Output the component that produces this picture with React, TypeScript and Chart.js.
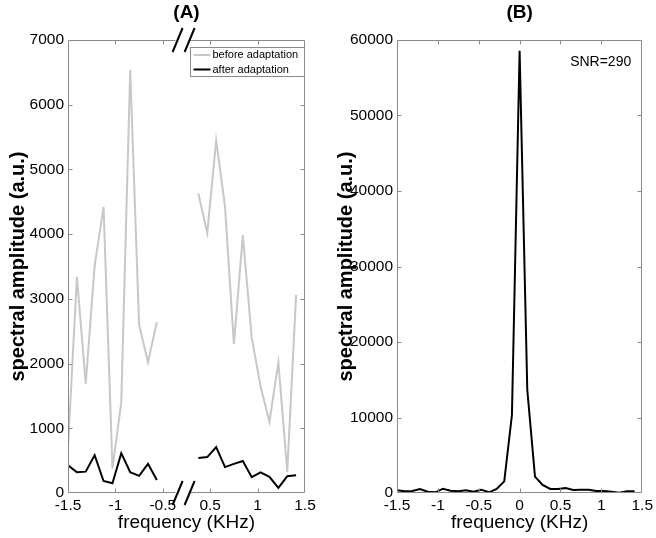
import React, { useEffect, useRef } from "react";
import { Chart, registerables } from "chart.js";

Chart.register(...registerables);

const FONT = "'Liberation Sans', Arial, Helvetica, sans-serif";
const FRAME = "#8a8a8a";
const GRAY_LINE = "#c8c8c8";

// ---------- Panel A (broken frequency axis) ----------
const freqLeftA = [-1.5, -1.406, -1.313, -1.219, -1.125, -1.031, -0.938, -0.844, -0.75, -0.656, -0.563];
const beforeLeftA = [700, 3340, 1690, 3510, 4420, 380, 1400, 6540, 2600, 2020, 2640];
const afterLeftA = [430, 320, 330, 585, 185, 150, 615, 320, 265, 450, 200];

const freqRightA = [0.375, 0.469, 0.563, 0.656, 0.75, 0.844, 0.938, 1.031, 1.125, 1.219, 1.313, 1.406];
const beforeRightA = [4630, 4020, 5450, 4430, 2300, 3980, 2400, 1650, 1100, 2020, 330, 3060];
const afterRightA = [540, 555, 710, 400, 450, 495, 245, 320, 250, 80, 260, 275];

const seriesLabelsA = ["before adaptation", "after adaptation"];
const yTicksA = [0, 1000, 2000, 3000, 4000, 5000, 6000, 7000];

// ---------- Panel B ----------
const freqB = [
  -1.5, -1.406, -1.313, -1.219, -1.125, -1.031, -0.938, -0.844, -0.75, -0.656, -0.563,
  -0.469, -0.375, -0.281, -0.188, -0.094, 0, 0.094, 0.188, 0.281, 0.375, 0.469,
  0.563, 0.656, 0.75, 0.844, 0.938, 1.031, 1.125, 1.219, 1.313, 1.406,
];
const amplitudeB = [
  350, 220, 260, 530, 180, 90, 570, 300, 220, 350, 180,
  440, 90, 530, 1540, 10330, 58580, 13640, 2160, 1060, 530, 530,
  660, 400, 440, 440, 260, 260, 180, 40, 220, 220,
];
const yTicksB = [0, 10000, 20000, 30000, 40000, 50000, 60000];
const snrText = "SNR=290";

const yTitle = "spectral amplitude (a.u.)";
const xTitle = "frequency (KHz)";

// The broken axis removes the 0.5 KHz between -0.5 and 0.5 KHz
const compress = (f: number) => (f < 0 ? f : f - 0.5);
const fmt = (v: number) => String(Math.round(v * 10) / 10);

const framePlugin = {
  id: "matlabFrame",
  afterDatasetsDraw(chart: any, _args: any, opts: any) {
    const { ctx } = chart;
    const { left, right, top, bottom } = chart.chartArea;
    const xs = chart.scales.x;
    const ys = chart.scales.y;
    const L = Math.round(left) + 0.5;
    const R = Math.round(right) - 0.5;
    const T = Math.round(top) + 0.5;
    const B = Math.round(bottom) - 0.5;
    ctx.save();
    ctx.strokeStyle = FRAME;
    ctx.lineWidth = 1;
    let bx: number | null = null;
    if (opts.breakAt !== undefined && opts.breakAt !== null) {
      bx = xs.getPixelForValue(opts.breakAt);
    }
    ctx.beginPath();
    ctx.moveTo(L, T); ctx.lineTo(L, B);
    ctx.moveTo(R, T); ctx.lineTo(R, B);
    for (const yy of [T, B]) {
      if (bx !== null) {
        ctx.moveTo(L, yy); ctx.lineTo(bx - 9, yy);
        ctx.moveTo(bx + 5, yy); ctx.lineTo(R, yy);
      } else {
        ctx.moveTo(L, yy); ctx.lineTo(R, yy);
      }
    }
    const tl = 4;
    for (const t of xs.ticks) {
      const px = Math.round(xs.getPixelForValue(t.value)) + 0.5;
      if (px <= L + 1 || px >= R - 1) continue;
      ctx.moveTo(px, B); ctx.lineTo(px, B - tl);
      ctx.moveTo(px, T); ctx.lineTo(px, T + tl);
    }
    for (const t of ys.ticks) {
      const py = Math.round(ys.getPixelForValue(t.value)) + 0.5;
      if (py <= T + 1 || py >= B - 1) continue;
      ctx.moveTo(L, py); ctx.lineTo(L + tl, py);
      ctx.moveTo(R, py); ctx.lineTo(R - tl, py);
    }
    ctx.stroke();

    if (bx !== null) {
      ctx.strokeStyle = "#000";
      ctx.lineWidth = 2;
      ctx.beginPath();
      for (const yc of [top, bottom]) {
        ctx.moveTo(bx - 12, yc + 12); ctx.lineTo(bx - 2, yc - 12);
        ctx.moveTo(bx, yc + 12); ctx.lineTo(bx + 10, yc - 12);
      }
      ctx.stroke();
    }

    ctx.fillStyle = "#000";
    ctx.font = `bold 19px ${FONT}`;
    ctx.textAlign = "center";
    ctx.textBaseline = "middle";
    ctx.fillText(opts.title, (left + right) / 2, 13);

    if (opts.legend) {
      const lw = 114, lh = 29;
      const lx = Math.round(right) - lw - 0.5;
      const ly = Math.round(top) + 7.5;
      ctx.fillStyle = "#fff";
      ctx.fillRect(lx, ly, lw, lh);
      ctx.strokeStyle = FRAME;
      ctx.lineWidth = 1;
      ctx.strokeRect(lx, ly, lw, lh);
      ctx.font = `11px ${FONT}`;
      ctx.textAlign = "left";
      ctx.textBaseline = "middle";
      chart.data.datasets.forEach((ds: any, i: number) => {
        const yy = ly + 7.5 + i * 14.5;
        ctx.strokeStyle = ds.borderColor;
        ctx.lineWidth = 2;
        ctx.beginPath();
        ctx.moveTo(lx + 3, yy);
        ctx.lineTo(lx + 20, yy);
        ctx.stroke();
        ctx.fillStyle = "#000";
        ctx.fillText(ds.label, lx + 22, yy);
      });
    }

    if (opts.note) {
      ctx.fillStyle = "#000";
      ctx.font = `14px ${FONT}`;
      ctx.textAlign = "right";
      ctx.textBaseline = "middle";
      ctx.fillText(opts.note, right - 11, 62);
    }
    ctx.restore();
  },
};

function makeOptions(cfg: {
  xMin: number; xMax: number; yMax: number; yStep: number; yWidth: number;
  padRight: number; xLabel: (v: number) => string; frame: any;
}) {
  return {
    responsive: false,
    animation: false as const,
    devicePixelRatio: 1,
    layout: { padding: { left: 0, right: cfg.padRight, top: 40, bottom: 0 } },
    elements: { point: { radius: 0 }, line: { tension: 0 } },
    plugins: {
      legend: { display: false },
      tooltip: { enabled: false },
      matlabFrame: cfg.frame,
    },
    scales: {
      x: {
        type: "linear" as const,
        min: cfg.xMin,
        max: cfg.xMax,
        grid: { display: false, drawTicks: false },
        border: { display: false },
        ticks: {
          stepSize: 0.5,
          autoSkip: false,
          maxRotation: 0,
          padding: 3,
          color: "#000",
          font: { family: FONT, size: 15.5 },
          callback: (v: any) => cfg.xLabel(Number(v)),
        },
        title: {
          display: true,
          text: xTitle,
          color: "#000",
          font: { family: FONT, size: 19 },
          padding: { top: 0, bottom: 4 },
        },
        afterFit: (s: any) => { s.height = 45; },
      },
      y: {
        type: "linear" as const,
        min: 0,
        max: cfg.yMax,
        grid: { display: false, drawTicks: false },
        border: { display: false },
        ticks: {
          stepSize: cfg.yStep,
          autoSkip: false,
          padding: 4,
          color: "#000",
          font: { family: FONT, size: 15.5 },
          callback: (v: any) => String(v),
        },
        title: {
          display: true,
          text: yTitle,
          color: "#000",
          font: { family: FONT, size: 20, weight: "bold" as const },
          padding: { top: 6, bottom: 0 },
        },
        afterFit: (s: any) => { s.width = cfg.yWidth; },
      },
    },
  };
}

function PanelA() {
  const ref = useRef<HTMLCanvasElement | null>(null);
  useEffect(() => {
    if (!ref.current) return;
    const gapX = -0.25;
    const before = [
      ...freqLeftA.map((f, i) => ({ x: compress(f), y: beforeLeftA[i] })),
      { x: gapX, y: null },
      ...freqRightA.map((f, i) => ({ x: compress(f), y: beforeRightA[i] })),
    ];
    const after = [
      ...freqLeftA.map((f, i) => ({ x: compress(f), y: afterLeftA[i] })),
      { x: gapX, y: null },
      ...freqRightA.map((f, i) => ({ x: compress(f), y: afterRightA[i] })),
    ];
    const chart = new Chart(ref.current, {
      type: "line",
      data: {
        datasets: [
          { label: seriesLabelsA[0], data: before as any, borderColor: GRAY_LINE, borderWidth: 2, spanGaps: false, fill: false },
          { label: seriesLabelsA[1], data: after as any, borderColor: "#000", borderWidth: 2, spanGaps: false, fill: false },
        ],
      },
      options: makeOptions({
        xMin: compress(-1.5),
        xMax: compress(1.5),
        yMax: yTicksA[yTicksA.length - 1],
        yStep: yTicksA[1] - yTicksA[0],
        yWidth: 68,
        padRight: 23,
        xLabel: (v) => (v < -0.01 ? fmt(v) : fmt(v + 0.5)),
        frame: { title: "(A)", breakAt: -0.27, legend: true },
      }) as any,
      plugins: [framePlugin],
    });
    return () => chart.destroy();
  }, []);
  return (
    <canvas ref={ref} width={328} height={538}
      style={{ position: "absolute", left: 0, top: 0, width: 328, height: 538 }} />
  );
}

function PanelB() {
  const ref = useRef<HTMLCanvasElement | null>(null);
  useEffect(() => {
    if (!ref.current) return;
    const chart = new Chart(ref.current, {
      type: "line",
      data: {
        datasets: [
          {
            label: "after adaptation",
            data: freqB.map((f, i) => ({ x: f, y: amplitudeB[i] })) as any,
            borderColor: "#000",
            borderWidth: 2,
            fill: false,
          },
        ],
      },
      options: makeOptions({
        xMin: -1.5,
        xMax: 1.5,
        yMax: yTicksB[yTicksB.length - 1],
        yStep: yTicksB[1] - yTicksB[0],
        yWidth: 69,
        padRight: 11,
        xLabel: (v) => fmt(v),
        frame: { title: "(B)", note: snrText },
      }) as any,
      plugins: [framePlugin],
    });
    return () => chart.destroy();
  }, []);
  return (
    <canvas ref={ref} width={328} height={538}
      style={{ position: "absolute", left: 328, top: 0, width: 328, height: 538 }} />
  );
}

export default function App() {
  return (
    <div style={{ position: "absolute", left: 0, top: 0, width: 656, height: 538, background: "#fff" }}>
      <PanelA />
      <PanelB />
    </div>
  );
}
